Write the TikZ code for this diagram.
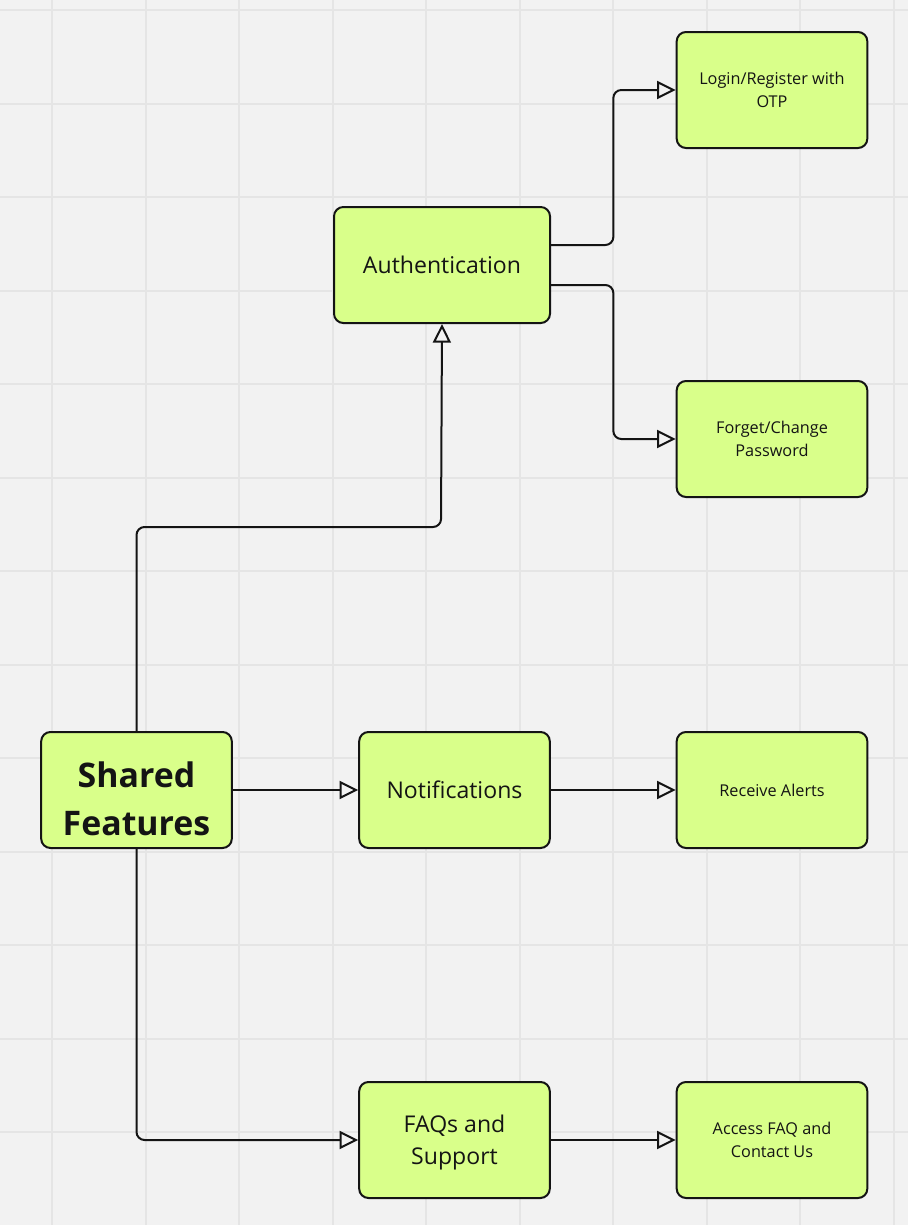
\documentclass[tikz,border=0pt]{standalone}
\usepackage{fontspec}
\setmainfont{Open Sans}
\usetikzlibrary{arrows.meta,positioning,calc}
\definecolor{canvas}{HTML}{F2F2F2}
\definecolor{gridline}{HTML}{E5E5E5}
\definecolor{lime}{HTML}{D9FF8A}
\definecolor{ink}{HTML}{141414}

\begin{document}
\begin{tikzpicture}[
x=0.75pt,y=-0.75pt,
>={Triangle[open,length=14pt,width=13.5pt]},
box/.style={
	draw=ink,
	fill=lime,
	line width=1.5pt,
	rounded corners=7pt,
	minimum width=143pt,
	minimum height=87pt,
	align=center,
	text=ink,
	inner sep=2pt
},
small/.style={font=\fontsize{12.2}{17}\selectfont},
medium/.style={font=\fontsize{17.3}{24.5}\selectfont},
large/.style={font=\fontsize{25.4}{36}\selectfont\bfseries},
link/.style={
	->,
	draw=ink,
	line width=1.5pt,
	rounded corners=6pt
}
]
\useasboundingbox (0,0) rectangle (908,1225);
\fill[canvas] (0,0) rectangle (908,1225);
\foreach \i in {0,...,9}
\draw[gridline,line width=1.5pt] ({52+93.5*\i},0) -- ({52+93.5*\i},1225);
\foreach \i in {0,...,13}
\draw[gridline,line width=1.5pt] (0,{10+93.5*\i}) -- (908,{10+93.5*\i});

\node[box,large] (shared) at (136.5,790) {\rule{0pt}{33pt}Shared\\Features};
\node[box,medium,minimum width=162pt] (auth) at (442,265) {Authentication};
\node[box,medium] (notif) at (454.5,790) {Notifications};
\node[box,medium] (faq) at (454.5,1140) {\rule{0pt}{17pt}FAQs and\\Support};

\node[box,small] (login) at (772,90) {Login/Register with\\OTP};
\node[box,small] (forget) at (772,439) {Forget/Change\\Password};
\node[box,small] (alerts) at (772,790) {Receive Alerts};
\node[box,small] (access) at (772,1140) {Access FAQ and\\Contact Us};

\coordinate (split) at ($(auth.east)!0.5!(login.west)$);
\coordinate (bend) at (441,527);

\draw[link] (shared.north) |- (bend) -- (auth.south);
\draw[link] ([yshift=15pt]auth.east) -| (split |- login.west) -- (login.west);
\draw[link] ([yshift=-15pt]auth.east) -| (split |- forget.west) -- (forget.west);
\draw[link] (shared) -- (notif);
\draw[link] (notif) -- (alerts);
\draw[link] (shared.south) |- (faq.west);
\draw[link] (faq) -- (access);
\end{tikzpicture}
\end{document}
